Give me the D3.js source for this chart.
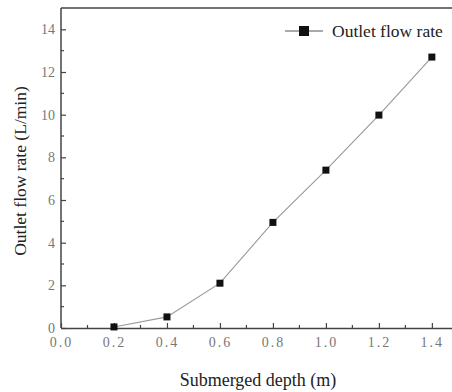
<!DOCTYPE html>
<html>
<head>
<meta charset="utf-8">
<script src="https://cdn.jsdelivr.net/npm/d3@7"></script>
<style>
  body { margin: 0; background: #fff; }
  text { font-family: "Liberation Serif", "DejaVu Serif", serif; }
</style>
</head>
<body>
<div id="chart"></div>
<script>
// data
var depth = [0.2, 0.4, 0.6, 0.8, 1.0, 1.2, 1.4];
var flow = [0.05, 0.52, 2.1, 4.95, 7.4, 9.98, 12.7];
var xTicks = [0, 0.2, 0.4, 0.6, 0.8, 1.0, 1.2, 1.4];
var yTicks = [0, 2, 4, 6, 8, 10, 12, 14];
var seriesName = "Outlet flow rate";

var width = 452, height = 392;
var mLeft = 61, mTop = 8, mBottom = 328;

var svg = d3.select("#chart").append("svg")
    .attr("width", width)
    .attr("height", height);

var x = d3.scaleLinear().domain([0, 1.476]).range([mLeft, width]);
var y = d3.scaleLinear().domain([0, 15]).range([mBottom, mTop]);

var axisColor = "#444";
var labelColor = "#777";

// top frame line
svg.append("line")
    .attr("x1", mLeft).attr("x2", width)
    .attr("y1", mTop).attr("y2", mTop)
    .attr("stroke", axisColor).attr("stroke-width", 1.5);

// x axis (ticks pointing inward)
var gx = svg.append("g")
    .attr("transform", "translate(0," + mBottom + ")")
    .call(d3.axisBottom(x).tickValues(xTicks).tickSizeInner(-5).tickSizeOuter(0)
        .tickFormat(function(d) { return d.toFixed(1); }));
gx.select(".domain").attr("stroke", axisColor).attr("stroke-width", 1.5);
gx.selectAll(".tick line").attr("stroke", axisColor).attr("stroke-width", 1.2);
gx.selectAll(".tick text")
    .attr("y", 9).attr("dy", "0.71em")
    .attr("fill", labelColor).attr("font-size", 14)
    .style("letter-spacing", "2px");

// x minor ticks
svg.append("g").selectAll("line")
    .data(d3.range(0.1, 1.45, 0.2))
    .enter().append("line")
    .attr("x1", function(d) { return x(d); })
    .attr("x2", function(d) { return x(d); })
    .attr("y1", mBottom).attr("y2", mBottom - 3)
    .attr("stroke", axisColor).attr("stroke-width", 1.2);

// y axis
var gy = svg.append("g")
    .attr("transform", "translate(" + mLeft + ",0)")
    .call(d3.axisLeft(y).tickValues(yTicks).tickSizeInner(-5).tickSizeOuter(0));
gy.select(".domain").attr("stroke", axisColor).attr("stroke-width", 1.5)
    .attr("d", "M0," + mBottom + "V" + mTop);
gy.selectAll(".tick line").attr("stroke", axisColor).attr("stroke-width", 1.2);
gy.selectAll(".tick text")
    .attr("x", -6)
    .attr("fill", labelColor).attr("font-size", 14);

// y minor ticks
svg.append("g").selectAll("line")
    .data(d3.range(1, 15, 2))
    .enter().append("line")
    .attr("x1", mLeft).attr("x2", mLeft + 3)
    .attr("y1", function(d) { return y(d); })
    .attr("y2", function(d) { return y(d); })
    .attr("stroke", axisColor).attr("stroke-width", 1.2);

// line and markers
var pts = depth.map(function(d, i) { return [d, flow[i]]; });
svg.append("path")
    .datum(pts)
    .attr("fill", "none")
    .attr("stroke", "#999")
    .attr("stroke-width", 1.1)
    .attr("d", d3.line()
        .x(function(d) { return x(d[0]); })
        .y(function(d) { return y(d[1]); }));

var ms = 7;
svg.selectAll("rect.pt")
    .data(pts)
    .enter().append("rect")
    .attr("class", "pt")
    .attr("x", function(d) { return x(d[0]) - ms / 2; })
    .attr("y", function(d) { return y(d[1]) - ms / 2; })
    .attr("width", ms).attr("height", ms)
    .attr("fill", "#111");

// legend
var lg = svg.append("g").attr("transform", "translate(285,31)");
lg.append("line").attr("x1", 0).attr("x2", 38)
    .attr("stroke", "#555").attr("stroke-width", 1.2);
lg.append("rect").attr("x", 14).attr("y", -5).attr("width", 10).attr("height", 10)
    .attr("fill", "#111");
lg.append("text").attr("x", 47).attr("y", 6)
    .attr("font-size", 17.5).attr("fill", "#222")
    .text(seriesName);

// axis titles
svg.append("text")
    .attr("x", 258).attr("y", 386)
    .attr("text-anchor", "middle")
    .attr("font-size", 18).attr("fill", "#222")
    .text("Submerged depth (m)");

svg.append("text")
    .attr("transform", "translate(26,171) rotate(-90)")
    .attr("text-anchor", "middle")
    .attr("font-size", 17.5).attr("fill", "#222")
    .text("Outlet flow rate (L/min)");
</script>
</body>
</html>
